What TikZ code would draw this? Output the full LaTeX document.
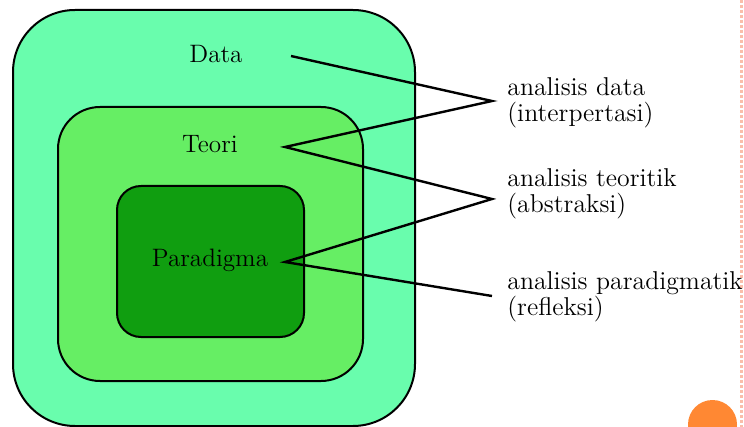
\documentclass[tikz,border=0pt]{standalone}
\usetikzlibrary{positioning}

\definecolor{outerfill}{RGB}{105,253,173}
\definecolor{middlefill}{RGB}{102,238,100}
\definecolor{innerfill}{RGB}{16,158,16}
\definecolor{dotline}{RGB}{250,190,170}
\definecolor{bulletorange}{RGB}{255,136,51}

\tikzset{
    layer/.style={draw=black, line width=1pt},
    levellabel/.style={anchor=base, font=\fontsize{12.6}{13}\selectfont, inner sep=0pt},
    analysislabel/.style={anchor=base west, align=left, font=\fontsize{12.9}{13}\selectfont, inner sep=0pt},
    link/.style={line width=1.2pt}
}

\begin{document}
\begin{tikzpicture}[x=0.5pt, y=-0.5pt]
    % Fix the page size to the reference
    \useasboundingbox (0,0) rectangle (744,427);

    % Slide decoration on the right edge
    \draw[dotline, line width=1.5pt, densely dotted] (741.5,0) -- (741.5,427);
    \fill[bulletorange] (712.5,424.5) circle (24.5);

    % The three nested layers
    \draw[layer, fill=outerfill, rounded corners=31pt] (13,10) rectangle (415,426);
    \draw[layer, fill=middlefill, rounded corners=21pt] (58,107) rectangle (363,381);
    \draw[layer, fill=innerfill, rounded corners=12pt] (117,186) rectangle (304,337);

    % Layer names
    \node[levellabel] (data) at (216,63) {Data};
    \node[levellabel] (teori) at (210,153) {Teori};
    \node[levellabel] (paradigma) at (210,267) {Paradigma};

    % Kinds of analysis (base is the second line)
    \node[analysislabel] (interp) at (507,122) {analisis data\\(interpertasi)};
    \node[analysislabel] (abstr) at (507,213) {analisis teoritik\\(abstraksi)};
    \node[analysislabel] (refl) at (507,315) {analisis paradigmatik\\(refleksi)};

    % Ends of the zig-zag
    \coordinate (dataEnd) at (291,56);
    \coordinate (teoriEnd) at (285,147);
    \coordinate (paraEnd) at (285,262);
    \coordinate (interpTip) at (492,101);
    \coordinate (abstrTip) at (492,199);
    \coordinate (reflTip) at (492,296);

    \draw[link] (dataEnd) -- (interpTip) -- (teoriEnd) -- (abstrTip)
        -- (paraEnd) -- (reflTip);
\end{tikzpicture}
\end{document}
